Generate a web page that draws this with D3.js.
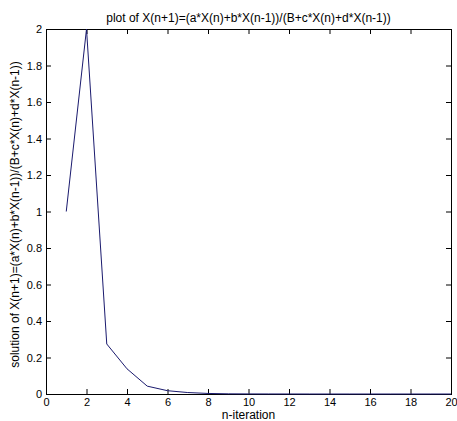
<!DOCTYPE html>
<html>
<head>
<meta charset="utf-8">
<script src="https://cdn.jsdelivr.net/npm/d3@7"></script>
<style>
  body { margin: 0; background: #fff; }
  svg text { font-family: "Liberation Sans", Arial, sans-serif; font-size: 12px; fill: #000; }
</style>
</head>
<body>
<div id="chart"></div>
<script>
// iteration values
let nValues = [1, 2, 3, 4, 5, 6, 7, 8, 9, 10, 11, 12, 13, 14, 15, 16, 17, 18, 19, 20]
let xValues = [1, 2, 0.274, 0.138, 0.043, 0.018, 0.008, 0.003, 0.001, 0.0005, 0.0002, 0.0001, 0, 0, 0, 0, 0, 0, 0, 0]
let xTicks = [0, 2, 4, 6, 8, 10, 12, 14, 16, 18, 20]
let yTicks = [0, 0.2, 0.4, 0.6, 0.8, 1, 1.2, 1.4, 1.6, 1.8, 2]

let titleText = "plot of X(n+1)=(a*X(n)+b*X(n-1))/(B+c*X(n)+d*X(n-1))"
let xLabel = "n-iteration"
let yLabel = "solution of X(n+1)=(a*X(n)+b*X(n-1))/(B+c*X(n)+d*X(n-1))"

let margin = { top: 29, right: 6, bottom: 27, left: 46 }
let width = 457 - margin.left - margin.right
let height = 421 - margin.top - margin.bottom

let svg = d3.select("#chart")
    .append("svg")
    .attr("width", 457)
    .attr("height", 421)

let g = svg.append("g")
    .attr("transform", "translate(" + margin.left + "," + margin.top + ")")

let xScale = d3.scaleLinear().domain([0, 20]).range([0, width])
let yScale = d3.scaleLinear().domain([0, 2]).range([height, 0])

// frame
g.append("rect")
    .attr("x", 0.5).attr("y", 0.5)
    .attr("width", width).attr("height", height)
    .style("fill", "none")
    .style("stroke", "#000")

let tickLen = 5

// bottom axis, ticks inward
let xAxis = g.append("g")
    .attr("transform", "translate(0," + height + ")")
    .call(d3.axisBottom(xScale).tickValues(xTicks).tickSize(-tickLen).tickPadding(4).tickFormat(d3.format("d")))
xAxis.select(".domain").remove()

// top ticks
let xTop = g.append("g")
    .call(d3.axisTop(xScale).tickValues(xTicks).tickSize(-tickLen).tickFormat(""))
xTop.select(".domain").remove()

// left axis
let yAxis = g.append("g")
    .call(d3.axisLeft(yScale).tickValues(yTicks).tickSize(-tickLen).tickPadding(4).tickFormat(d => d3.format("~g")(d)))
yAxis.select(".domain").remove()

// right ticks
let yRight = g.append("g")
    .attr("transform", "translate(" + width + ",0)")
    .call(d3.axisRight(yScale).tickValues(yTicks).tickSize(-tickLen).tickFormat(""))
yRight.select(".domain").remove()

g.selectAll(".tick line").style("stroke", "#000")
g.selectAll(".tick text").style("font-size", "11px").style("fill", "#000")

let line = d3.line()
    .x((d, i) => xScale(nValues[i]))
    .y(d => yScale(d))

g.append("path")
    .datum(xValues)
    .attr("d", line)
    .style("fill", "none")
    .style("stroke", "#1a1a6e")
    .style("stroke-width", 1)

svg.append("text")
    .attr("x", margin.left + width / 2)
    .attr("y", 22)
    .attr("text-anchor", "middle")
    .text(titleText)

svg.append("text")
    .attr("x", margin.left + width / 2)
    .attr("y", 419)
    .attr("text-anchor", "middle")
    .text(xLabel)

svg.append("text")
    .attr("transform", "translate(19," + (margin.top + height / 2 + 3) + ") rotate(-90)")
    .attr("text-anchor", "middle")
    .text(yLabel)
</script>
</body>
</html>
